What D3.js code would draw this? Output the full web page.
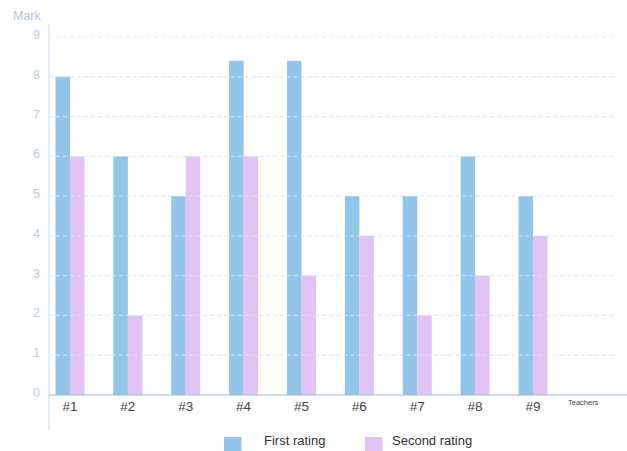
<!DOCTYPE html>
<html>
<head>
<meta charset="utf-8">
<script src="https://cdn.jsdelivr.net/npm/d3@7"></script>
<style>
  html, body { margin: 0; padding: 0; background: #fff; }
  svg { display: block; font-family: "Liberation Sans", Arial, sans-serif; }
</style>
</head>
<body>
<svg id="chart" width="627" height="451"></svg>
<script>
// Ratings given to each teacher, two rounds
const teachers = ["#1", "#2", "#3", "#4", "#5", "#6", "#7", "#8", "#9"];
const firstRating = [8, 6, 5, 8.4, 8.4, 5, 5, 6, 5];
const secondRating = [6, 2, 6, 6, 3, 4, 2, 3, 4];
const yTicks = [0, 1, 2, 3, 4, 5, 6, 7, 8, 9];
const seriesNames = ["First rating", "Second rating"];
const seriesColors = ["#92c5ea", "#e2c3f5"];

const svg = d3.select("#chart");
const plot = { left: 49, right: 627, top: 24, bottom: 395, gridEnd: 614 };

const x = d3.scalePoint().domain(teachers).range([70, 533]);
const y = d3.scaleLinear().domain([0, 9]).range([plot.bottom, 37]);
const barW = 14.5;

// y axis line (extends below the x axis)
svg.append("line")
  .attr("x1", plot.left).attr("x2", plot.left)
  .attr("y1", plot.top).attr("y2", 430)
  .attr("stroke", "#dde7f7").attr("stroke-width", 1.5);

// bars
const series = [firstRating, secondRating];
series.forEach((vals, si) => {
  svg.append("g").selectAll("rect")
    .data(teachers)
    .join("rect")
    .attr("x", (d) => x(d) + (si === 0 ? -barW : 0))
    .attr("y", (d, i) => y(vals[i]))
    .attr("width", barW)
    .attr("height", (d, i) => y(0) - y(vals[i]))
    .attr("fill", seriesColors[si]);
});

// dashed grid lines, drawn over the bars
svg.append("g").selectAll("line")
  .data(yTicks.filter(t => t > 0))
  .join("line")
  .attr("x1", plot.left).attr("x2", plot.gridEnd)
  .attr("y1", d => y(d)).attr("y2", d => y(d))
  .attr("stroke", "#d8e3f6").attr("stroke-opacity", 0.8)
  .attr("stroke-width", 1.2)
  .attr("stroke-dasharray", "4,3");

// y tick labels
svg.append("g").selectAll("text")
  .data(yTicks)
  .join("text")
  .attr("x", 40)
  .attr("y", d => y(d) + 2)
  .attr("text-anchor", "end")
  .attr("fill", "#b5cdef")
  .attr("font-size", 12.5)
  .text(d => d);

// y axis title
svg.append("text")
  .attr("x", 13).attr("y", 19.5)
  .attr("fill", "#adc6ee")
  .attr("font-size", 12.5)
  .text("Mark");

// x axis line
svg.append("line")
  .attr("x1", plot.left).attr("x2", plot.right)
  .attr("y1", y(0)).attr("y2", y(0))
  .attr("stroke", "#9fbbe8").attr("stroke-width", 1.2);

// category labels
svg.append("g").selectAll("text")
  .data(teachers)
  .join("text")
  .attr("x", d => x(d))
  .attr("y", 411)
  .attr("text-anchor", "middle")
  .attr("fill", "#444")
  .attr("font-size", 13.5)
  .text(d => d);

// x axis title
svg.append("text")
  .attr("x", 568).attr("y", 405)
  .attr("fill", "#444")
  .attr("font-size", 7.5)
  .text("Teachers");

// legend
const legendX = [224, 365];
seriesNames.forEach((name, i) => {
  svg.append("rect")
    .attr("x", legendX[i]).attr("y", 437)
    .attr("width", 17.5).attr("height", 17.5)
    .attr("fill", seriesColors[i]);
  svg.append("text")
    .attr("x", legendX[i] + (i === 0 ? 40 : 27)).attr("y", 445)
    .attr("fill", "#333")
    .attr("font-size", 13)
    .text(name);
});
</script>
</body>
</html>
